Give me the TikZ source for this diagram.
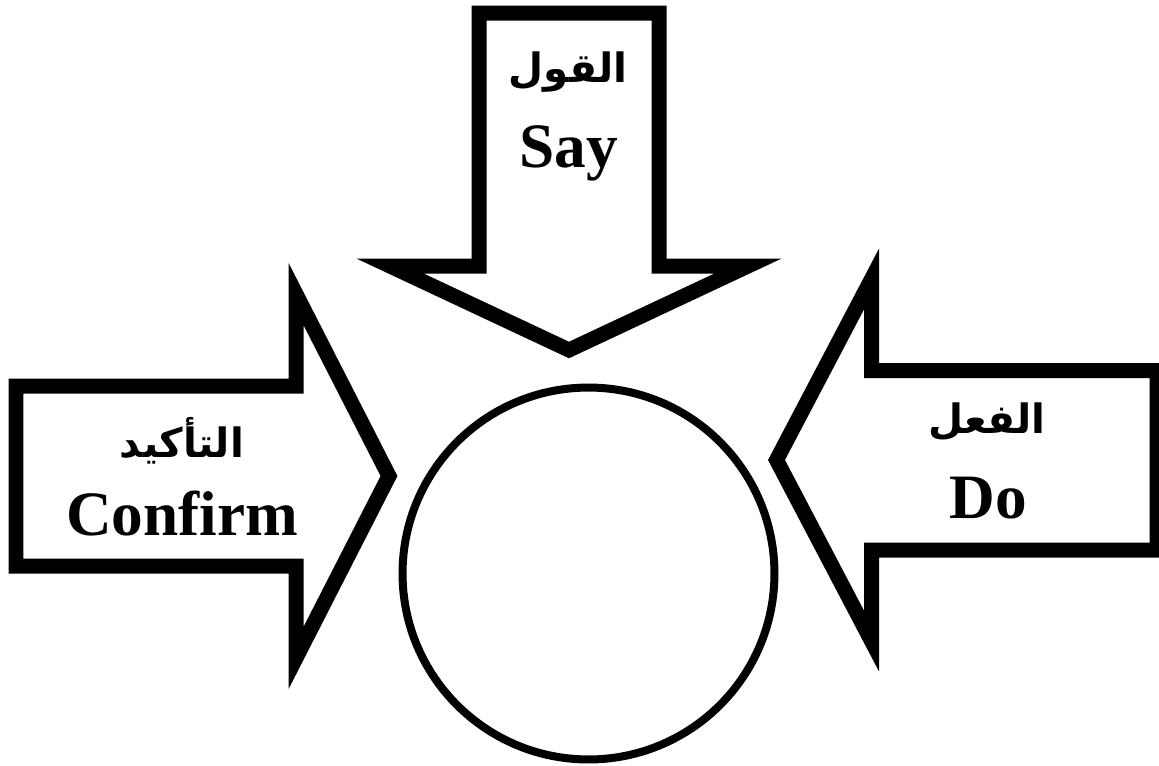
\documentclass[tikz,border=0pt]{standalone}
\usepackage{fontspec}
\setmainfont{Liberation Serif}
\newfontfamily\arabicfont[Script=Arabic]{DejaVu Sans}
\TeXXeTstate=1
\begin{document}
\begin{tikzpicture}[x=0.02cm,y=-0.02cm,
  bigarrow/.style={draw=black,line width=0.3cm,line join=miter,miter limit=10,fill=white},
  hub/.style={draw=black,line width=0.16cm,circle,minimum size=7.44cm,inner sep=0pt},
  latin/.style={font=\fontsize{36}{40}\selectfont\bfseries,anchor=base,inner sep=0pt},
  arab/.style={font=\arabicfont\fontsize{23}{28}\selectfont\bfseries,anchor=center,inner sep=0pt}]
\useasboundingbox (0,0) rectangle (1159,765);
\clip (0,0) rectangle (1159,765);
% top arrow (Say)
\draw[bigarrow] (479,13) -- (659,13) -- (659,266) -- (748,266) -- (569,350) -- (390,266) -- (479,266) -- cycle;
% left arrow (Confirm)
\draw[bigarrow] (16,386) -- (296,386) -- (296,294) -- (389,476) -- (296,658) -- (296,566) -- (16,566) -- cycle;
% right arrow (Do)
\draw[bigarrow] (1157,370.5) -- (871.5,370.5) -- (871.5,279) -- (776.5,460) -- (871.5,641) -- (871.5,550) -- (1157,550) -- cycle;
% centre circle
\node[hub] (c) at (588.5,573.5) {};
% labels
\node[arab] (sayar) at (568,72) {\beginR القول\endR};
\node[latin] (say) at (569,167) {Say};
\node[arab] (confar) at (182,441) {\beginR التأكيد\endR};
\node[latin] (conf) at (182,535) {Confirm};
\node[arab] (doar) at (987,422) {\beginR الفعل\endR};
\node[latin] (do) at (988,518) {Do};
\end{tikzpicture}
\end{document}
